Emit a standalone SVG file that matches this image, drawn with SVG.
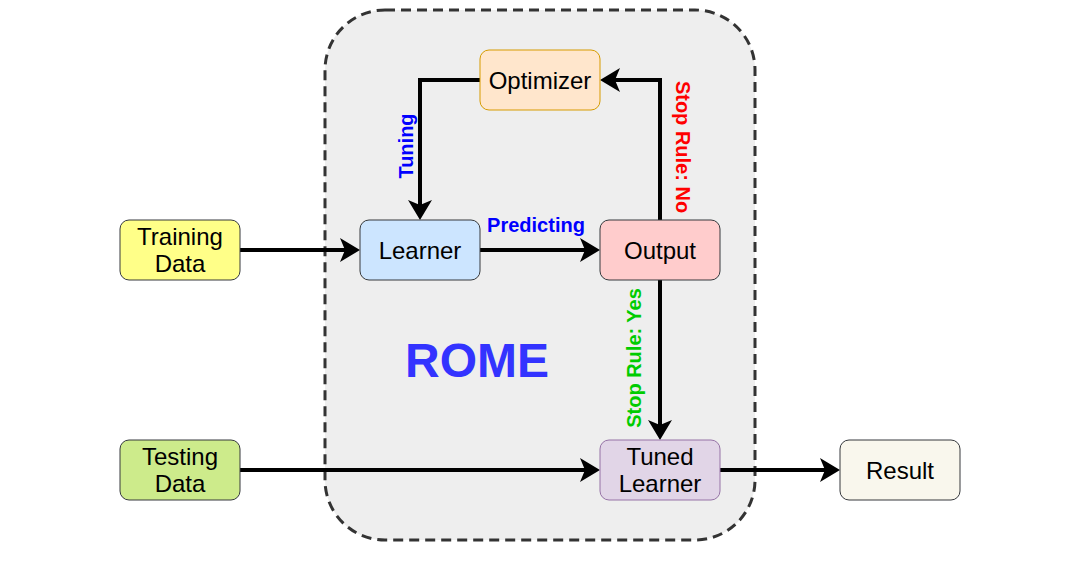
<svg xmlns="http://www.w3.org/2000/svg" width="1081" height="561" viewBox="0 0 1081 561">
<defs>
<style>
.node rect{stroke-width:1}
.nt{font-family:"Liberation Sans",Arial,sans-serif;font-size:24px;fill:#000;text-anchor:middle}
.lbl{font-family:"Liberation Sans",Arial,sans-serif;font-size:20px;font-weight:bold;text-anchor:middle}
.edge{fill:none;stroke:#000;stroke-width:4;marker-end:url(#arr)}
</style>
<marker id="arr" viewBox="0 0 20 24" markerWidth="20" markerHeight="24" refX="5" refY="12" orient="auto" markerUnits="userSpaceOnUse">
<path d="M20,12 L0,0 L5,12 L0,24 Z" fill="#000"/>
</marker>
</defs>
<rect width="1081" height="561" fill="#fff"/>
<g id="rome">
<rect x="325" y="10" width="430" height="530" rx="60" ry="60" fill="#eeeeee" stroke="#333333" stroke-width="3" stroke-dasharray="10 6"/>
<text x="477" y="377" font-family="Liberation Sans,Arial,sans-serif" font-size="48" font-weight="bold" fill="#3333ff" text-anchor="middle">ROME</text>
</g>
<g id="connectors">
<path class="edge" d="M240,250 L345,250"/>
<path class="edge" d="M480,250 L585,250"/>
<path class="edge" d="M660,220 L660,80 L615,80"/>
<path class="edge" d="M480,80 L420,80 L420,205"/>
<path class="edge" d="M660,280 L660,425"/>
<path class="edge" d="M240,470 L585,470"/>
<path class="edge" d="M720,470 L825,470"/>
<text class="lbl" x="536" y="232" fill="#0000ff">Predicting</text>
<text class="lbl" fill="#0000ff" transform="translate(413,146) rotate(-90)">Tuning</text>
<text class="lbl" fill="#ff0000" transform="translate(676,147) rotate(90)">Stop Rule: No</text>
<text class="lbl" fill="#00cc00" transform="translate(641,358) rotate(-90)">Stop Rule: Yes</text>
</g>
<g id="training" class="node">
<rect x="120" y="220" width="120" height="60" rx="9" fill="#ffff88" stroke="#36393d"/>
<text class="nt" x="180" y="245">Training</text>
<text class="nt" x="180" y="272">Data</text>
</g>
<g id="testing" class="node">
<rect x="120" y="440" width="120" height="60" rx="9" fill="#cdeb8b" stroke="#36393d"/>
<text class="nt" x="180" y="465">Testing</text>
<text class="nt" x="180" y="492">Data</text>
</g>
<g id="learner" class="node">
<rect x="360" y="220" width="120" height="60" rx="9" fill="#cce5ff" stroke="#36393d"/>
<text class="nt" x="420" y="259">Learner</text>
</g>
<g id="optimizer" class="node">
<rect x="480" y="50" width="120" height="60" rx="9" fill="#ffe6cc" stroke="#d79b00"/>
<text class="nt" x="540" y="89">Optimizer</text>
</g>
<g id="output" class="node">
<rect x="600" y="220" width="120" height="60" rx="9" fill="#ffcccc" stroke="#36393d"/>
<text class="nt" x="660" y="259">Output</text>
</g>
<g id="tuned" class="node">
<rect x="600" y="440" width="120" height="60" rx="9" fill="#e1d5e7" stroke="#9673a6"/>
<text class="nt" x="660" y="465">Tuned</text>
<text class="nt" x="660" y="492">Learner</text>
</g>
<g id="result" class="node">
<rect x="840" y="440" width="120" height="60" rx="9" fill="#f9f7ed" stroke="#36393d"/>
<text class="nt" x="900" y="479">Result</text>
</g>
</svg>
